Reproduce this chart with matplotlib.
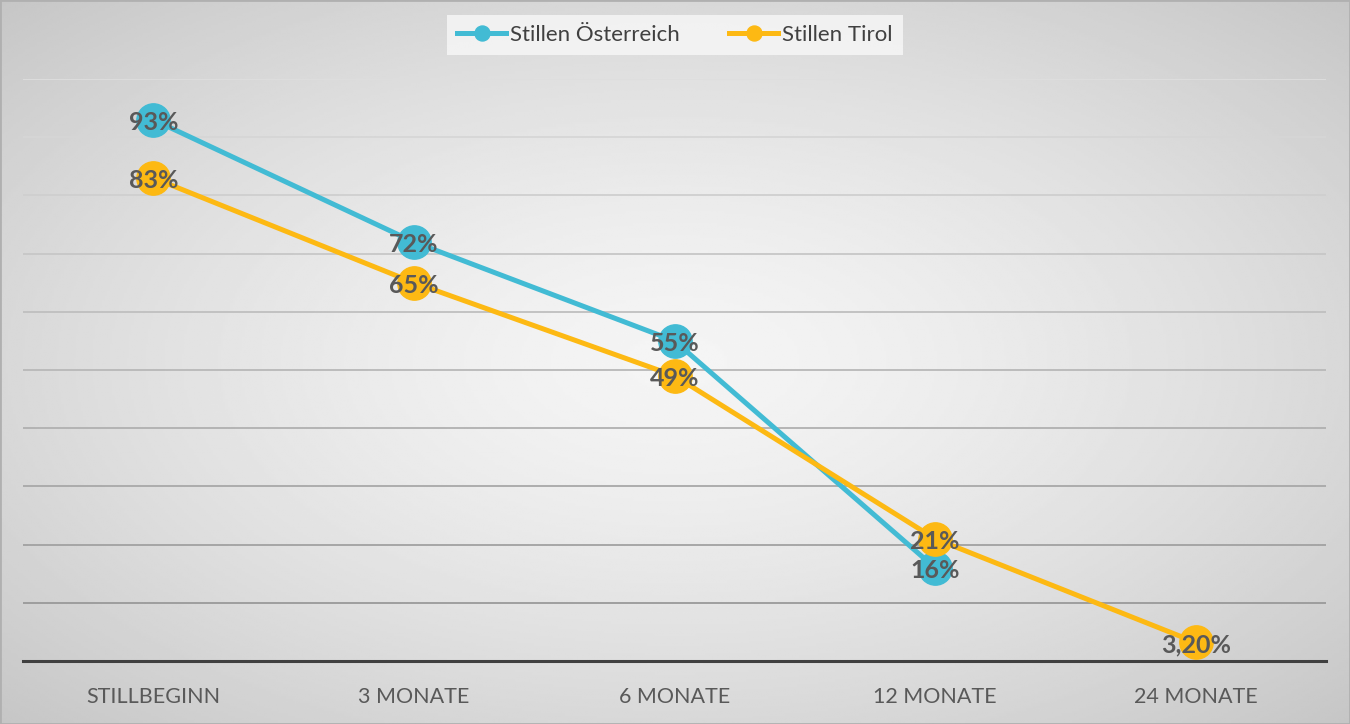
import matplotlib.pyplot as plt
import numpy as np

# ---- data ----
categories = ['STILLBEGINN', '3 MONATE', '6 MONATE', '12 MONATE', '24 MONATE']
austria    = [93, 72, 55, 16]
tirol      = [83, 65, 49, 21, 3.2]
austria_lbl = ['93%', '72%', '55%', '16%']
tirol_lbl   = ['83%', '65%', '49%', '21%', '3,20%']

# ---- style ----
AUT_C, TIR_C, TXT_C = '#42bbd4', '#fdb913', '#595959'
plt.rcParams['font.family'] = ['Lato', 'DejaVu Sans']

fig = plt.figure(figsize=(13.5, 7.24), dpi=100)

# radial gradient background
bg = fig.add_axes([0, 0, 1, 1], zorder=0)
yy, xx = np.mgrid[0:1:300j, 0:1:560j]
r = np.sqrt(((xx - 0.5) / 0.75) ** 2 + ((yy - 0.5) / 0.75) ** 2)
bg.imshow(0.96 - 0.20 * np.clip(r, 0, 1) ** 1.4, cmap='gray', vmin=0, vmax=1,
          extent=[0, 1, 0, 1], aspect='auto')
bg.add_patch(plt.Rectangle((0, 0), 1, 1, fill=False, edgecolor='#b0b0b0', linewidth=2))
bg.set_axis_off()

ax = fig.add_axes([23 / 1350, 1 - 661 / 724, 1303 / 1350, 582 / 724], zorder=1)
ax.patch.set_alpha(0)
ax.set_xlim(-0.5, 4.5)
ax.set_ylim(0, 100)

for v in range(10, 101, 10):
    g = 0.87 - 0.30 * (1 - v / 100)
    ax.axhline(v, color=(g, g, g), linewidth=1.3, zorder=1)
ax.axhline(0, color='#404040', linewidth=2.2, zorder=2, clip_on=False)

x_aut = np.arange(len(austria))
x_tir = np.arange(len(tirol))
ax.plot(x_aut, austria, '-o', color=AUT_C, linewidth=3.6, markersize=24,
        label='Stillen Österreich', zorder=3)
ax.plot(x_tir, tirol, '-o', color=TIR_C, linewidth=3.6, markersize=24,
        label='Stillen Tirol', zorder=4, clip_on=False)

for x, y, s in zip(x_aut, austria, austria_lbl):
    ax.text(x, y - 0.5, s, ha='center', va='center', fontsize=18, fontweight='bold',
            color=TXT_C, zorder=5)
for x, y, s in zip(x_tir, tirol, tirol_lbl):
    ax.text(x, y - 0.5, s, ha='center', va='center', fontsize=18, fontweight='bold',
            color=TXT_C, zorder=5)

ax.set_xticks(range(len(categories)))
ax.set_xticklabels(categories, fontsize=15.5, color=TXT_C)
ax.tick_params(axis='x', length=0, pad=19)
ax.set_yticks([])
for s in ax.spines.values():
    s.set_visible(False)

leg = fig.legend(loc='center', bbox_to_anchor=(675 / 1350, 1 - 35 / 724), ncol=2,
                 fontsize=16, frameon=True, fancybox=False, markerscale=0.45,
                 handlelength=2.2, handletextpad=0.2, columnspacing=2.2, borderpad=0.45)
leg.get_frame().set_facecolor('#f8f8f8')
leg.get_frame().set_edgecolor('none')
for t in leg.get_texts():
    t.set_color('#404040')

fig.savefig('out.png', dpi=100)
